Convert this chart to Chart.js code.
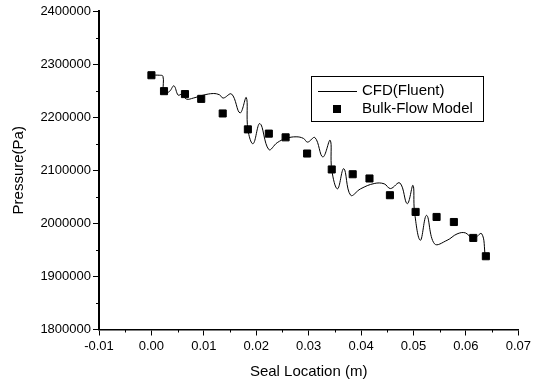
<!DOCTYPE html>
<html>
<head>
<meta charset="utf-8">
<script src="https://cdn.jsdelivr.net/npm/chart.js@4/dist/chart.umd.min.js"></script>
<style>
  html, body { margin: 0; padding: 0; background: #fff; }
  #wrap { width: 534px; height: 382px; }
</style>
</head>
<body>
<div id="wrap"><canvas id="chart" width="534" height="382"></canvas></div>
<script>
// CFD (Fluent) pressure along the seal
const cfdX = [0.0000, 0.0015, 0.0022, 0.0023, 0.0028, 0.0035, 0.0043, 0.0051, 0.0058, 0.0067,
  0.0080, 0.0099, 0.0118, 0.0130, 0.0137, 0.0153, 0.0169, 0.0181, 0.0184, 0.0194,
  0.0207, 0.0224, 0.0240, 0.0257, 0.0276, 0.0290, 0.0298, 0.0312, 0.0327, 0.0341,
  0.0344, 0.0355, 0.0367, 0.0380, 0.0399, 0.0425, 0.0444, 0.0456, 0.0474, 0.0488,
  0.0499, 0.0502, 0.0513, 0.0525, 0.0540, 0.0564, 0.0583, 0.0599, 0.0614, 0.0630, 0.0637];
const cfdY = [2279000, 2279000, 2277000, 2250000, 2246000, 2249000, 2259000, 2241500, 2243000, 2234000,
  2236000, 2241500, 2244500, 2242000, 2236000, 2243500, 2208000, 2237000, 2177000, 2150000,
  2188000, 2139000, 2152000, 2160000, 2163000, 2160000, 2153000, 2161500, 2125000, 2156500,
  2101000, 2065000, 2103000, 2053000, 2065000, 2075000, 2074500, 2065500, 2076000, 2037000,
  2071500, 2021000, 1968000, 2015000, 1961500, 1968000, 1980000, 1982000, 1971000, 1980500, 1937000];

// Bulk-Flow model points
const bulkX = [0.0000, 0.0024, 0.0064, 0.0095, 0.0136, 0.0184, 0.0224, 0.0256, 0.0297,
  0.0344, 0.0384, 0.0416, 0.0455, 0.0504, 0.0544, 0.0577, 0.0614, 0.0638];
const bulkY = [2279000, 2249000, 2243500, 2234500, 2207000, 2177000, 2169000, 2162000, 2131500,
  2101500, 2092500, 2084500, 2053000, 2021500, 2012000, 2002500, 1972500, 1938000];

const seriesNames = ['CFD(Fluent)', 'Bulk-Flow Model'];

// minor tick positions
const minorX = [-0.005, 0.005, 0.015, 0.025, 0.035, 0.045, 0.055, 0.065];
const minorY = [1850000, 1950000, 2050000, 2150000, 2250000, 2350000];

const FONT = '"Liberation Sans", Arial, sans-serif';

const toPts = (xs, ys) => xs.map((x, i) => ({ x: x, y: ys[i] }));

const minorTicks = {
  id: 'minorTicks',
  afterDraw(chart) {
    const ctx = chart.ctx;
    const xs = chart.scales.x, ys = chart.scales.y;
    const a = chart.chartArea;
    ctx.save();
    ctx.strokeStyle = '#000';
    ctx.lineWidth = 1;
    ctx.beginPath();
    minorX.forEach(v => {
      const px = Math.round(xs.getPixelForValue(v)) + 0.5;
      ctx.moveTo(px, a.bottom);
      ctx.lineTo(px, a.bottom + 3);
    });
    minorY.forEach(v => {
      const py = Math.round(ys.getPixelForValue(v)) + 0.5;
      ctx.moveTo(a.left, py);
      ctx.lineTo(a.left - 3, py);
    });
    ctx.stroke();
    ctx.restore();
  }
};

const boxLegend = {
  id: 'boxLegend',
  afterDraw(chart) {
    const ctx = chart.ctx;
    ctx.save();
    ctx.strokeStyle = '#000';
    ctx.lineWidth = 1;
    ctx.strokeRect(311.5, 76.5, 172, 45);
    // line sample
    ctx.beginPath();
    ctx.moveTo(318, 91.5);
    ctx.lineTo(357, 91.5);
    ctx.stroke();
    // square sample
    ctx.fillStyle = '#000';
    ctx.fillRect(333, 105, 8, 8);
    ctx.font = '15px ' + FONT;
    ctx.textBaseline = 'middle';
    ctx.fillText(seriesNames[0], 362, 91);
    ctx.fillText(seriesNames[1], 362, 109);
    ctx.restore();
  }
};

new Chart(document.getElementById('chart'), {
  type: 'scatter',
  data: {
    datasets: [
      {
        label: seriesNames[0],
        data: toPts(cfdX, cfdY),
        showLine: true,
        borderColor: '#000',
        borderWidth: 1,
        pointRadius: 0,
        tension: 0.4,
        order: 1
      },
      {
        label: seriesNames[1],
        data: toPts(bulkX, bulkY),
        showLine: false,
        pointStyle: 'rect',
        pointRadius: 5,
        backgroundColor: '#000',
        borderColor: '#000',
        borderWidth: 1,
        order: 0
      }
    ]
  },
  options: {
    responsive: false,
    animation: false,
    devicePixelRatio: 1,
    layout: { padding: { top: 11, right: 14, left: 0, bottom: 0 } },
    plugins: {
      legend: { display: false },
      tooltip: { enabled: false }
    },
    scales: {
      x: {
        type: 'linear',
        min: -0.01,
        max: 0.07,
        afterFit(s) { s.height = 52.5; },
        border: { display: true, color: '#000', width: 1.5 },
        grid: { drawOnChartArea: false, drawTicks: true, tickLength: 6, color: '#000' },
        ticks: {
          stepSize: 0.01,
          autoSkip: false,
          maxRotation: 0,
          padding: 3,
          color: '#000',
          font: { family: FONT, size: 13 },
          callback: v => v.toFixed(2)
        },
        title: {
          display: true,
          text: 'Seal Location (m)',
          color: '#000',
          font: { family: FONT, size: 15 },
          padding: { top: 0, bottom: 1 }
        }
      },
      y: {
        type: 'linear',
        min: 1800000,
        max: 2400000,
        afterFit(s) { s.width = 99; },
        border: { display: true, color: '#000', width: 2 },
        grid: { drawOnChartArea: false, drawTicks: true, tickLength: 6, color: '#000' },
        ticks: {
          stepSize: 100000,
          autoSkip: false,
          padding: 2,
          color: '#000',
          font: { family: FONT, size: 13 },
          callback: v => String(Math.round(v))
        },
        title: {
          display: true,
          text: 'Pressure(Pa)',
          color: '#000',
          font: { family: FONT, size: 15 },
          padding: { top: 10, bottom: 0 }
        }
      }
    }
  },
  plugins: [minorTicks, boxLegend]
});
</script>
</body>
</html>
